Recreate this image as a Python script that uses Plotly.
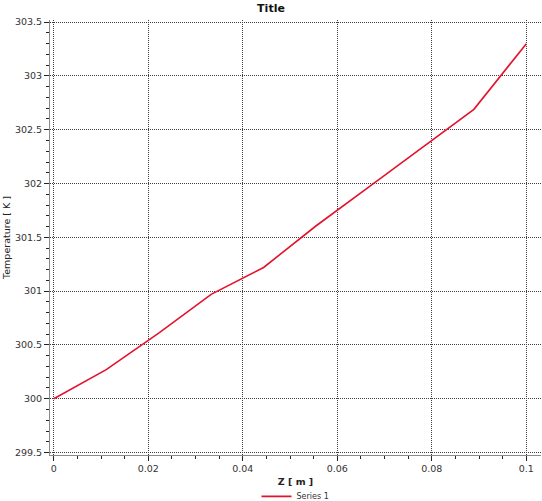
import plotly.graph_objects as go

# values
z_m = [0.0, 0.0111, 0.0222, 0.0333, 0.0444, 0.0556, 0.0667, 0.0778, 0.0889, 0.1]
temp_k = [300.0, 300.27, 300.61, 300.97, 301.22, 301.61, 301.97, 302.33, 302.69, 303.3]
series_name = "Series 1"

x_ticks = [0, 0.02, 0.04, 0.06, 0.08, 0.1]
x_labels = ["0", "0.02", "0.04", "0.06", "0.08", "0.1"]
y_ticks = [299.5, 300, 300.5, 301, 301.5, 302, 302.5, 303, 303.5]
y_labels = ["299.5", "300", "300.5", "301", "301.5", "302", "302.5", "303", "303.5"]

font_name = "DejaVu Sans"
text_col = "#333333"
grid_col = "#3c3c3c"

fig = go.Figure()
fig.add_trace(go.Scatter(x=z_m, y=temp_k, mode="lines", name=series_name,
                         line=dict(color="#e3122d", width=1.6)))

axis_common = dict(
    showgrid=True, gridcolor=grid_col, griddash="1px,1px", gridwidth=1,
    zeroline=False, showline=True, linecolor="#8a8a8a", linewidth=1,
    ticks="outside", ticklen=5, tickcolor="#222222", tickwidth=1,
    tickfont=dict(family=font_name, size=9.5, color=text_col),
    automargin=False,
)

fig.update_xaxes(
    **axis_common,
    range=[-0.0008, 0.1031],
    tickvals=x_ticks, ticktext=x_labels,
    minor=dict(ticks="outside", dtick=0.005, tick0=0, ticklen=3,
               tickcolor="#222222", showgrid=False),
    title=dict(text="<b>Z [ m ]</b>", font=dict(family=font_name, size=9.5, color="#222222"),
               standoff=4),
)
fig.update_yaxes(
    **axis_common,
    range=[299.477, 303.52],
    tickvals=y_ticks, ticktext=y_labels,
    minor=dict(ticks="outside", dtick=0.1, tick0=299.5, ticklen=3,
               tickcolor="#222222", showgrid=False),
    title=dict(text="Temperature [ K ]", font=dict(family=font_name, size=9.5, color="#222222"),
               standoff=2),
)

fig.update_layout(
    width=542, height=512,
    margin=dict(l=50, r=1, t=20, b=50),
    paper_bgcolor="white", plot_bgcolor="white",
    font=dict(family=font_name, color=text_col),
    title=dict(text="<b>Title</b>", x=0.5, xanchor="center", y=0.984, yanchor="middle",
               font=dict(family=font_name, size=11, color="#111111")),
    showlegend=True,
    legend=dict(orientation="h", x=0.5, xanchor="center", y=-0.095, yanchor="middle",
                font=dict(family=font_name, size=8, color=text_col),
                itemwidth=30, bgcolor="rgba(0,0,0,0)"),
)

# the page body has a default 8px margin; drop it so the figure sits at 0,0
fig.write_html("out.html", config={"displayModeBar": False},
               post_script="document.body.style.margin='0';document.body.style.overflow='hidden';")
